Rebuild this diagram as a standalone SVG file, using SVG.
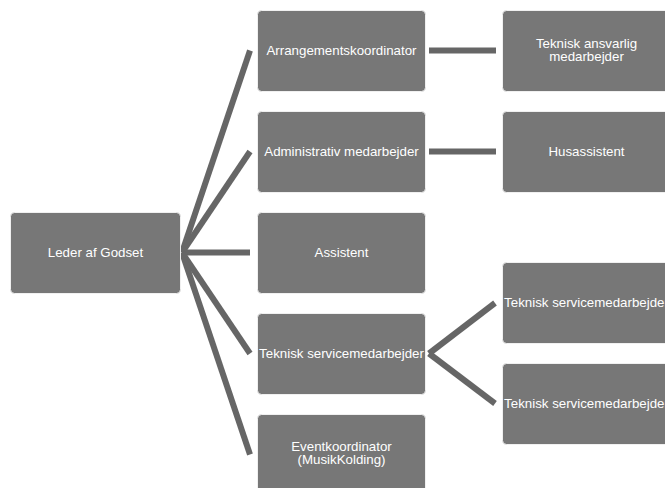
<svg xmlns="http://www.w3.org/2000/svg" width="665" height="488" viewBox="0 0 665 488">
<style>
.box{fill:#777777;stroke:#f0f0f0;stroke-width:1}
.t{font-family:"Liberation Sans",Arial,sans-serif;font-size:13.3px;fill:#ffffff;text-anchor:middle}
.c{stroke:#666666;stroke-width:6;fill:none}
</style>
<rect width="665" height="488" fill="#ffffff"/>
<g id="connectors">
<line class="c" x1="182" y1="252.5" x2="250" y2="50.5"/>
<line class="c" x1="182" y1="252.5" x2="250" y2="151.5"/>
<line class="c" x1="182" y1="252.5" x2="250" y2="252.5"/>
<line class="c" x1="182" y1="252.5" x2="250" y2="353.5"/>
<line class="c" x1="182" y1="252.5" x2="250" y2="454.5"/>
<line class="c" x1="429" y1="50.5" x2="496" y2="50.5"/>
<line class="c" x1="429" y1="151.5" x2="496" y2="151.5"/>
<line class="c" x1="429" y1="353.5" x2="495" y2="303"/>
<line class="c" x1="429" y1="353.5" x2="495" y2="403.5"/>
</g>
<g id="leder"><rect class="box" x="10.5" y="212.5" width="170" height="81" rx="4"/><text class="t" x="95.5" y="257">Leder af Godset</text></g>
<g id="arrangement"><rect class="box" x="257.5" y="10.5" width="168" height="81" rx="4"/><text class="t" x="341.5" y="55">Arrangementskoordinator</text></g>
<g id="administrativ"><rect class="box" x="257.5" y="111.5" width="168" height="81" rx="4"/><text class="t" x="341.5" y="156">Administrativ medarbejder</text></g>
<g id="assistent"><rect class="box" x="257.5" y="212.5" width="168" height="81" rx="4"/><text class="t" x="341.5" y="257">Assistent</text></g>
<g id="teknisk"><rect class="box" x="257.5" y="313.5" width="168" height="81" rx="4"/><text class="t" x="341.5" y="358">Teknisk servicemedarbejder</text></g>
<g id="event"><rect class="box" x="257.5" y="414.5" width="168" height="81" rx="4"/><text class="t" x="341.5" y="451">Eventkoordinator</text><text class="t" x="341.5" y="463.5">(MusikKolding)</text></g>
<g id="teknisk-ansvarlig"><rect class="box" x="502.5" y="10.5" width="168" height="81" rx="4"/><text class="t" x="586.5" y="48">Teknisk ansvarlig</text><text class="t" x="586.5" y="61">medarbejder</text></g>
<g id="husassistent"><rect class="box" x="502.5" y="111.5" width="168" height="81" rx="4"/><text class="t" x="586.5" y="156">Husassistent</text></g>
<g id="teknisk-service-1"><rect class="box" x="502.5" y="262.5" width="168" height="81" rx="4"/><text class="t" x="586.5" y="307">Teknisk servicemedarbejder</text></g>
<g id="teknisk-service-2"><rect class="box" x="502.5" y="363.5" width="168" height="81" rx="4"/><text class="t" x="586.5" y="408">Teknisk servicemedarbejder</text></g>
</svg>
